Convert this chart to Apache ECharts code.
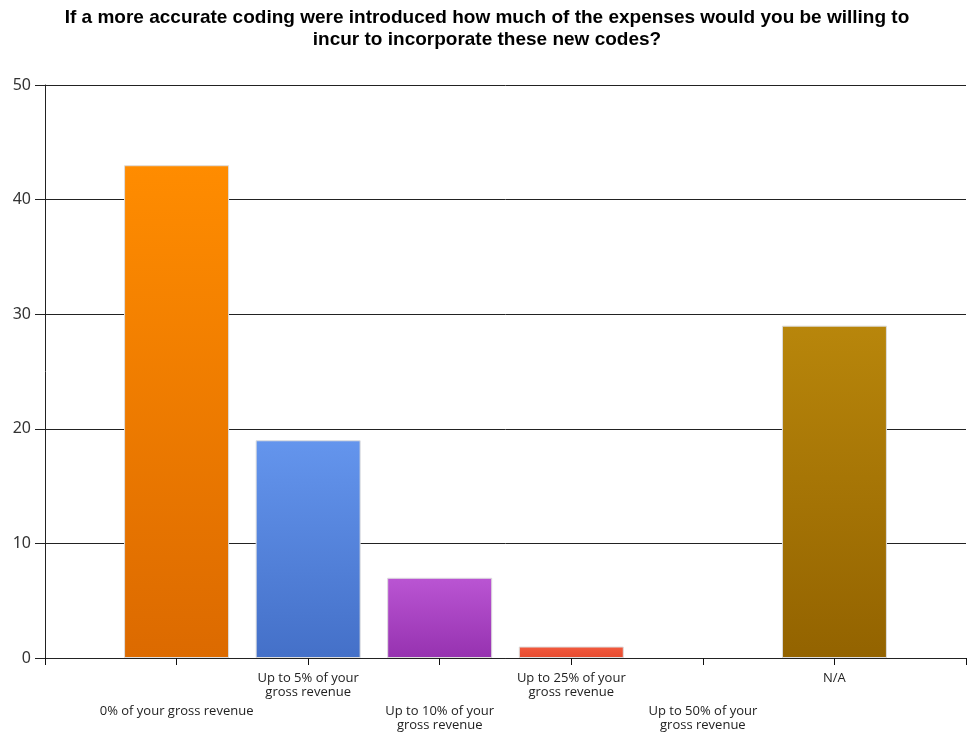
<!DOCTYPE html>
<html>
<head>
<meta charset="utf-8">
<script src="https://cdn.jsdelivr.net/npm/echarts@6/dist/echarts.min.js"></script>
<style>html,body{margin:0;padding:0;background:#fff}#c{width:967px;height:733px}</style>
</head>
<body>
<div id="c"></div>
<script>
const titleText = 'If a more accurate coding were introduced how much of the expenses would you be willing to\nincur to incorporate these new codes?';
const categories = ['0% of your gross revenue', 'Up to 5% of your\ngross revenue', 'Up to 10% of your\ngross revenue', 'Up to 25% of your\ngross revenue', 'Up to 50% of your\ngross revenue', 'N/A'];
const values = [43, 19, 7, 1, 0, 29];
const topColors = ['#FF8C00', '#6495ED', '#BA55D3', '#F25A3E', '#999999', '#B8860B'];
const bottomColors = ['#DC6A00', '#4470C8', '#9632B0', '#E64A2E', '#777777', '#936300'];
const yTicks = [0, 10, 20, 30, 40, 50];

const seriesData = values.map((v, i) => ({
  value: [i + 1, v],
  itemStyle: {
    borderWidth: v === 0 ? 0 : 1,
    opacity: v === 0 ? 0 : 1,
    color: new echarts.graphic.LinearGradient(0, 0, 0, 1, [
      {offset: 0, color: topColors[i]},
      {offset: 1, color: bottomColors[i]}
    ])
  }
}));

const xMax = categories.length + 1;
const chart = echarts.init(document.getElementById('c'));
chart.setOption({
  animation: false,
  title: {
    text: titleText,
    left: 482, top: 2, textAlign: 'center',
    textStyle: {fontFamily: 'Liberation Sans, Arial', fontWeight: 'bold', fontSize: 19, lineHeight: 22, color: '#000'}
  },
  grid: {left: 45, right: 1, top: 85, bottom: 75, containLabel: false},
  xAxis: [{
    type: 'value',
    min: 0, max: xMax, interval: 1,
    axisLine: {show: false},
    axisTick: {show: false},
    axisLabel: {
      margin: 13, showMinLabel: false, showMaxLabel: false,
      formatter: function (v) {
        const idx = Math.round(v);
        const name = categories[idx - 1];
        if (!name) return '';
        const lines = name.split('\n').map(s => '{a|' + s + '}').join('\n');
        return (idx % 2 === 1) ? '{s| }\n' + lines : lines;
      },
      rich: {
        a: {fontFamily: 'Open Sans, Noto Sans', fontSize: 13, lineHeight: 14, color: '#222'},
        s: {fontSize: 10, lineHeight: 33}
      }
    },
    splitLine: {show: false}
  }, {
    type: 'value',
    position: 'bottom',
    z: 10,
    min: 0, max: xMax, interval: 1,
    axisLine: {show: true, lineStyle: {color: '#222', width: 1}},
    axisTick: {show: true, length: 7, lineStyle: {color: '#111', width: 1}},
    axisLabel: {show: false},
    splitLine: {show: false}
  }],
  yAxis: {
    type: 'value',
    min: yTicks[0], max: yTicks[yTicks.length - 1], interval: 10,
    axisLine: {show: true, lineStyle: {color: '#222'}},
    axisTick: {show: true, length: 10, lineStyle: {color: '#222'}},
    axisLabel: {margin: 14, fontFamily: 'Noto Sans, Open Sans', fontSize: 16, color: '#333'},
    splitLine: {show: true, lineStyle: {color: '#222', width: 1}}
  },
  series: [{
    type: 'bar',
    xAxisIndex: 0,
    data: seriesData,
    barWidth: 105,
    itemStyle: {borderColor: '#DDDDDD'}
  }]
});
</script>
</body>
</html>
